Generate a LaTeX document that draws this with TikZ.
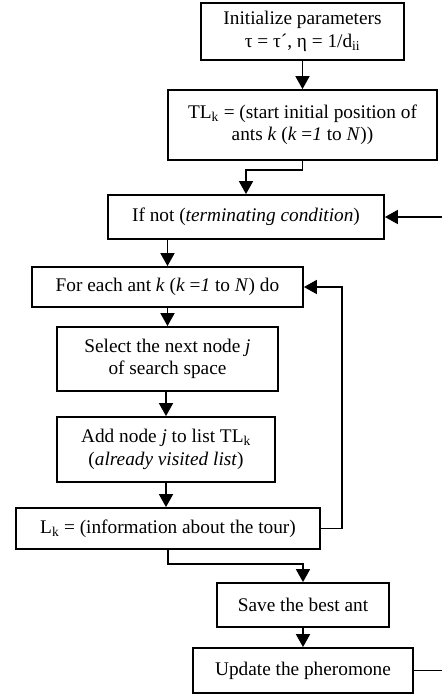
\documentclass[tikz,border=0pt]{standalone}
\usepackage{fontspec}
\setmainfont{Liberation Serif}
\usetikzlibrary{arrows.meta,calc}
\tikzset{
  box/.style={draw=black, line width=1.8pt, rectangle, inner sep=0pt, align=center,
    font=\fontsize{19.3}{22.5}\selectfont},
  arr/.style={line width=1.8pt, -{Triangle[length=13pt,width=14pt]}},
  ln/.style={line width=1.8pt}
}
\begin{document}
\begin{tikzpicture}[x=1pt,y=-1pt]
\useasboundingbox (0,0) rectangle (442,694);
\node[box, minimum width=203pt, minimum height=57pt] (B1) at (302.5,31.5) {Initialize parameters\\ τ = τ´, η = 1/d\textsubscript{ii}};
\node[box, minimum width=269pt, minimum height=70pt] (B2) at (302.5,125) {TL\textsubscript{k} = (start initial position of\\ ants \textit{k} (\textit{k} =\textit{1} to \textit{N}))};
\node[box, minimum width=276pt, minimum height=44pt] (B3) at (246,217) {If not (\textit{terminating condition})};
\node[box, minimum width=271pt, minimum height=40pt] (B4) at (167.5,287) {For each ant \textit{k} (\textit{k} =\textit{1} to \textit{N}) do};
\node[box, minimum width=221pt, minimum height=64pt] (B5) at (167.5,359) {Select the next node \textit{j}\\ of search space};
\node[box, minimum width=218pt, minimum height=65pt] (B6) at (166,449.5) {Add node \textit{j} to list TL\textsubscript{k}\\ (\textit{already visited list})};
\node[box, minimum width=304pt, minimum height=41pt] (B7) at (168,528.5) {L\textsubscript{k} = (information about the tour)};
\node[box, minimum width=172pt, minimum height=44pt] (B8) at (303,605) {Save the best ant};
\node[box, minimum width=220pt, minimum height=45pt] (B9) at (303,670.5) {Update the pheromone};
\coordinate (loopR) at (342,0);
\coordinate (outR) at (450,0);
\draw[arr] (B1.south) -- (B1.south |- B2.north);
\draw[arr] (B2.south) -- ++(0,9) -| (B3.north);
\draw[arr] (B4.north |- B3.south) -- (B4.north);
\draw[arr] (B4.south) -- (B5.north);
\draw[arr] (B6.north |- B5.south) -- (B6.north);
\draw[arr] (B6.south) -- (B6.south |- B7.north);
\draw[arr] (B7.south) -- ++(0,14) -| (B8.north);
\draw[arr] (B8.south) -- (B9.north);
\draw[arr] (B7.east) -- (B7.east -| loopR) |- (B4.east);
\draw[arr] (B9.east) -- (B9.east -| outR) |- (B3.east);
\end{tikzpicture}
\end{document}
